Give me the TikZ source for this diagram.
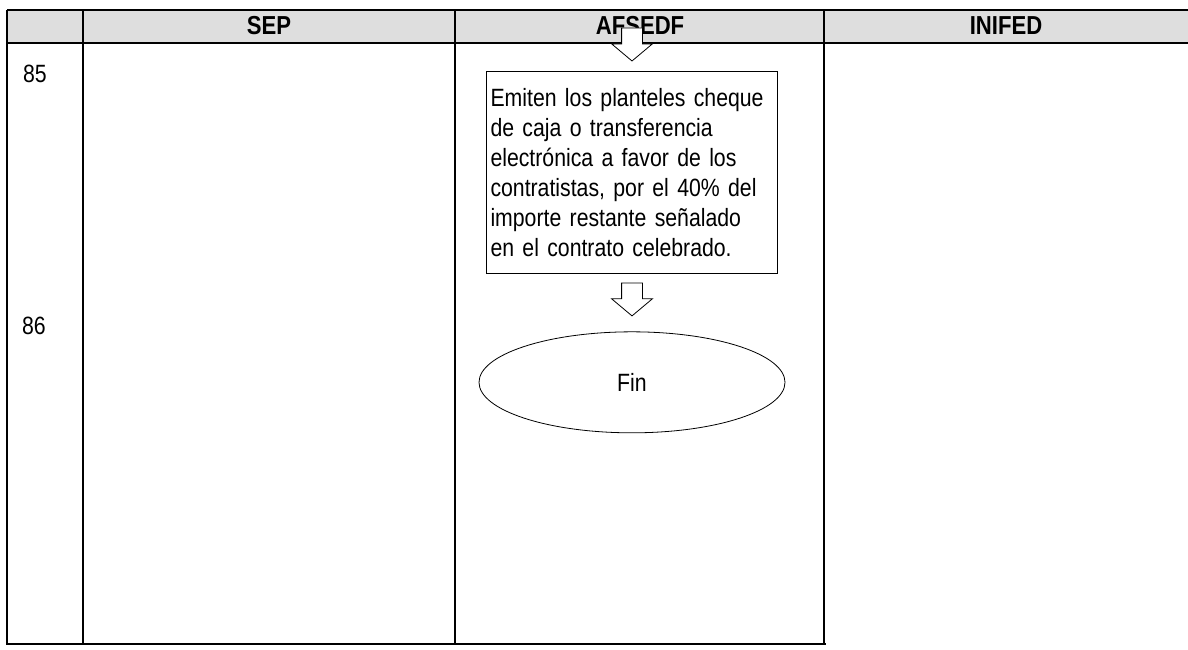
\documentclass[tikz,border=0pt]{standalone}
\usepackage{fontspec}
\setmainfont{Liberation Sans}[FakeStretch=0.85]
\usepackage{tikz}
\usetikzlibrary{positioning}
\usetikzlibrary{shapes.geometric}
\usetikzlibrary{shapes.arrows}
\tikzset{lane/.style={line width=1.2pt},
         lanehead/.style={font=\fontsize{26}{30}\selectfont\bfseries},
         stepnum/.style={font=\fontsize{25}{30}\selectfont},
         procbox/.style={draw,line width=1pt,align=left,text width=283pt,inner xsep=4pt,
                         minimum height=201pt,font=\fontsize{25}{30}\selectfont},
         flowarrow/.style={draw,fill=white,single arrow,shape border rotate=270,inner sep=10pt,
                           minimum height=33pt,single arrow head extend=10pt,
                           single arrow tip angle=100,line width=0.8pt},
         endnode/.style={draw,ellipse,line width=0.8pt,minimum width=306pt,minimum height=101pt,
                         font=\fontsize{25}{30}\selectfont}}

\begin{document}
\begin{tikzpicture}[x=1pt,y=-1pt]
\useasboundingbox (0,0) rectangle (1188,650);
\fill[black!13] (7,10) rectangle (1188,43);
\draw[lane] (7,10)--(1188,10);
\draw[lane] (7,43)--(1188,43);
\draw[lane] (7,10)--(7,644)--(826,644);
\draw[lane] (83,10)--(83,644);
\draw[lane] (455,10)--(455,644);
\draw[lane] (824,10)--(824,644);
\node[lanehead] (sep) at (269,26) {SEP};
\node[lanehead] (afsedf) at (640,26) {AFSEDF};
\node[lanehead] (inifed) at (1006,26) {INIFED};
\node[stepnum] (n85) at (35,74) {85};
\node[stepnum] (n86) at (34,326) {86};
\node[procbox] (emit) at (632,172.5) {Emiten los planteles cheque\\de caja o transferencia\\electrónica a favor de los\\contratistas, por el 40\% del\\importe restante señalado\\en el contrato celebrado.};
\node[flowarrow,above=10pt of emit] (arr1) {};
\node[flowarrow,below=9pt of emit] (arr2) {};
\node[endnode,below=15pt of arr2] (fin) {Fin};
\end{tikzpicture}
\end{document}
